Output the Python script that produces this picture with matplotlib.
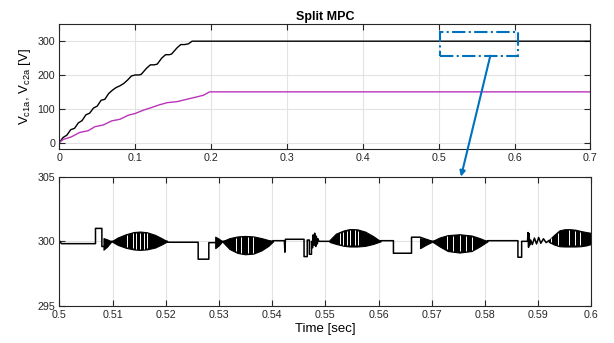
import numpy as np
import matplotlib
matplotlib.use("Agg")
import matplotlib.pyplot as plt
from matplotlib.patches import Rectangle

plt.rcParams['font.family'] = ['Liberation Sans', 'DejaVu Sans']

# top plot: capacitor voltages during start-up
vc1_t = [0, 0.005, 0.01, 0.015, 0.02, 0.025, 0.03, 0.035, 0.04, 0.045, 0.05, 0.055,
         0.06, 0.065, 0.07, 0.075, 0.08, 0.085, 0.09, 0.095, 0.1, 0.105, 0.108, 0.115,
         0.12, 0.125, 0.129, 0.135, 0.14, 0.145, 0.148, 0.155, 0.16, 0.165, 0.17, 0.175, 0.7]
vc1_v = [0, 15, 22, 38, 42, 58, 65, 82, 87, 102, 108, 125, 128, 145, 155, 163, 168, 175,
         185, 197, 200, 200, 202, 220, 230, 230, 232, 250, 260, 260, 262, 280, 290, 290,
         292, 300, 300]
vc2_t = [0, 0.005, 0.016, 0.027, 0.038, 0.047, 0.058, 0.069, 0.08, 0.091, 0.1, 0.111,
         0.122, 0.131, 0.142, 0.155, 0.168, 0.181, 0.19, 0.198, 0.7]
vc2_v = [0, 9, 17, 30, 35, 47, 52, 64, 69, 81, 86, 96, 104, 111, 118, 121, 128, 135,
         140, 150, 150]

# bottom plot: zoom of Vc1a between 0.5 and 0.6 s
base_t = [0.5, 0.5004, 0.5068, 0.5068, 0.508, 0.508, 0.5083, 0.5098, 0.5203, 0.5203,
          0.5261, 0.5261, 0.5281, 0.5281, 0.5293, 0.5306, 0.5402, 0.5402, 0.5423, 0.5424,
          0.5425, 0.5426, 0.546, 0.546, 0.5466, 0.5466, 0.547, 0.547, 0.5474, 0.5474,
          0.5476, 0.5477, 0.5479, 0.548, 0.5482, 0.5483, 0.5485, 0.5486, 0.5488, 0.5508,
          0.5604, 0.5604, 0.5628, 0.5628, 0.5662, 0.5662, 0.5678, 0.57, 0.5805, 0.5805,
          0.5862, 0.5862, 0.5869, 0.5869, 0.588, 0.5881, 0.5882, 0.5883, 0.5884, 0.5886,
          0.5889, 0.5893, 0.5897, 0.5901, 0.5905, 0.591, 0.5915, 0.592]
base_v = [300.05, 299.82, 299.82, 301.0, 301.0, 299.6, 299.6, 300.0, 300.0, 299.93,
          299.93, 298.62, 298.62, 299.9, 299.9, 300.0, 300.0, 300.05, 300.05, 299.16,
          300.16, 300.16, 300.16, 298.82, 298.82, 300.1, 300.1, 299.0, 299.0, 300.0,
          299.5, 300.5, 299.7, 300.63, 299.6, 300.4, 299.8, 300.2, 300.0, 300.0,
          300.0, 300.05, 300.05, 299.08, 299.08, 300.32, 300.32, 300.0, 300.0, 300.05,
          300.05, 298.77, 298.77, 300.0, 300.0, 300.68, 299.54, 300.6, 299.7, 300.1,
          299.75, 300.25, 299.8, 300.3, 299.85, 300.2, 299.9, 300.05]

burst_t = [[0.5083, 0.509, 0.5098],
           [0.5098, 0.511, 0.5125, 0.514, 0.5152, 0.5165, 0.518, 0.5192, 0.5203],
           [0.5293, 0.53, 0.5306],
           [0.5306, 0.532, 0.5335, 0.5349, 0.5365, 0.538, 0.5393, 0.5402],
           [0.5508, 0.552, 0.5535, 0.5546, 0.556, 0.5575, 0.559, 0.5604],
           [0.5678, 0.569, 0.57],
           [0.57, 0.5715, 0.573, 0.5752, 0.5775, 0.579, 0.5805],
           [0.592, 0.593, 0.594, 0.595, 0.596, 0.597, 0.598, 0.599, 0.6]]
burst_hi = [[300.25, 300.15, 300.0],
            [300.0, 300.3, 300.55, 300.72, 300.76, 300.7, 300.5, 300.25, 300.0],
            [300.36, 300.2, 300.0],
            [300.0, 300.25, 300.38, 300.42, 300.38, 300.25, 300.1, 300.0],
            [300.1, 300.6, 300.85, 300.95, 300.93, 300.75, 300.4, 300.0],
            [300.24, 300.15, 300.05],
            [300.0, 300.3, 300.48, 300.55, 300.45, 300.25, 300.0],
            [300.1, 300.5, 300.85, 300.94, 300.94, 300.9, 300.8, 300.72, 300.65]]
burst_lo = [[299.35, 299.6, 300.0],
            [300.0, 299.72, 299.5, 299.37, 299.34, 299.38, 299.52, 299.75, 300.0],
            [299.47, 299.7, 300.0],
            [300.0, 299.4, 299.1, 299.0, 299.05, 299.3, 299.65, 300.0],
            [299.95, 299.8, 299.65, 299.6, 299.6, 299.65, 299.8, 300.0],
            [299.47, 299.75, 299.95],
            [300.0, 299.6, 299.25, 299.13, 299.25, 299.6, 300.0],
            [299.95, 299.75, 299.62, 299.6, 299.6, 299.6, 299.62, 299.68, 299.8]]
# light stripes seen inside the bursts (aliasing)
gap_t = [0.5128, 0.5138, 0.5145, 0.5152, 0.5159, 0.5165,
         0.5333, 0.5342, 0.5355, 0.5364,
         0.5527, 0.5534, 0.554, 0.5546, 0.5556, 0.5562,
         0.5728, 0.574, 0.5753, 0.5765, 0.5775,
         0.5925, 0.5937, 0.5958, 0.5969, 0.5978]

blue = '#0072BD'
dark = '#262626'

fig = plt.figure(figsize=(6.14, 3.43), dpi=100)
ax1 = fig.add_axes([0.0966, 0.5647, 0.8651, 0.3645])
ax2 = fig.add_axes([0.0966, 0.1079, 0.8665, 0.3770])

ax1.plot(vc1_t, vc1_v, color='black', lw=1.0)
ax1.plot(vc2_t, vc2_v, color='#BA34BA', lw=1.0)
ax1.set_xlim(0, 0.7)
ax1.set_ylim(-20, 350)
ax1.set_xticks(np.arange(0, 0.71, 0.1))
ax1.set_xticklabels(['0', '0.1', '0.2', '0.3', '0.4', '0.5', '0.6', '0.7'])
ax1.set_yticks([0, 100, 200, 300])
ax1.set_title('Split MPC', fontsize=9, fontweight='bold', pad=3)
ax1.set_ylabel('V$_{\\mathregular{c1a}}$, V$_{\\mathregular{c2a}}$ [V]', fontsize=9.5,
               labelpad=3)
ax1.add_patch(Rectangle((0.502, 257), 0.103, 70, fill=False, edgecolor=blue,
                        lw=1.5, ls='-.', zorder=5))

ax2.plot(base_t, base_v, color='black', lw=1.1)
for t, hi, lo in zip(burst_t, burst_hi, burst_lo):
    ax2.fill_between(t, lo, hi, color='black', lw=0.8, edgecolor='black')
all_t = sum(burst_t, [])
all_hi = sum(burst_hi, [])
all_lo = sum(burst_lo, [])
for g in gap_t:
    hi = np.interp(g, all_t, all_hi)
    lo = np.interp(g, all_t, all_lo)
    ax2.vlines(g, lo + 0.08, hi - 0.08, color='white', lw=0.7, zorder=3)
ax2.set_xlim(0.5, 0.6)
ax2.set_ylim(295, 305)
ax2.set_xticks(np.arange(0.5, 0.6001, 0.01))
ax2.set_xticklabels(['0.5', '0.51', '0.52', '0.53', '0.54', '0.55', '0.56',
                     '0.57', '0.58', '0.59', '0.6'])
ax2.set_yticks([295, 300, 305])
ax2.set_xlabel('Time [sec]', fontsize=9.5, labelpad=2)

for ax in (ax1, ax2):
    ax.grid(True, color='#E3E3E3', lw=0.8)
    ax.set_axisbelow(True)
    ax.tick_params(direction='in', top=True, right=True, length=4, width=0.8,
                   labelsize=7.7, colors=dark, pad=3)
    for s in ax.spines.values():
        s.set_color(dark)
        s.set_linewidth(0.8)

ax1.annotate('', xy=(0.5755, 305), xycoords=ax2.transData,
             xytext=(0.568, 257), textcoords=ax1.transData,
             arrowprops=dict(arrowstyle='-|>', color=blue, lw=1.5,
                             mutation_scale=8, shrinkA=0, shrinkB=0),
             annotation_clip=False, zorder=6)

fig.savefig('out.png', dpi=100)
